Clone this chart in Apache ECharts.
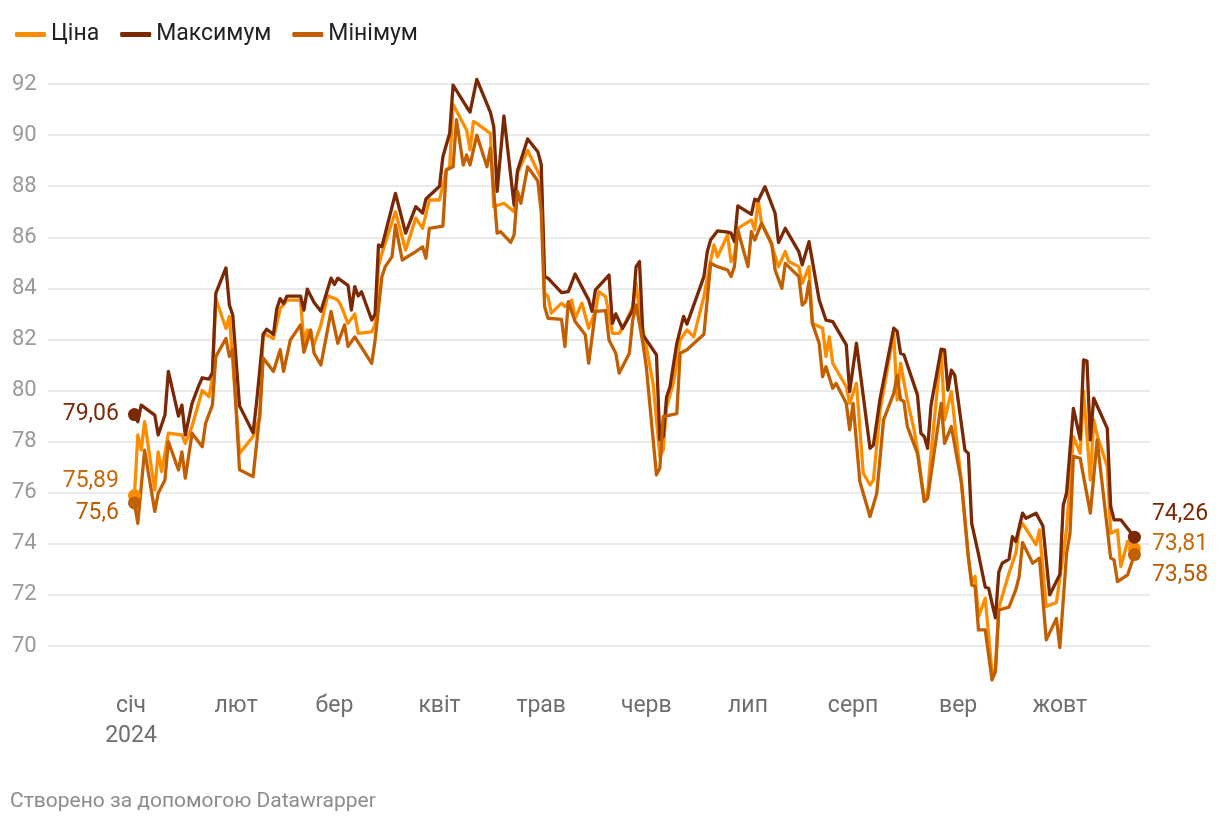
<!DOCTYPE html>
<html><head><meta charset="utf-8">
<script src="https://cdn.jsdelivr.net/npm/echarts@6/dist/echarts.min.js"></script>
<style>html,body{margin:0;padding:0;background:#fff}#chart{width:1220px;height:826px}</style>
</head><body><div id="chart"></div>
<script>
// Days are counted from 2024-01-01 (day 0)
const seriesNames = ['Ціна', 'Максимум', 'Мінімум'];
const monthLabels = ['січ','лют','бер','квіт','трав','черв','лип','серп','вер','жовт','лист','груд'];
const yearLabel = '2024';
const footerText = 'Створено за допомогою Datawrapper';

const priceDays = [1,2,3,4,7,8,9,10,11,15,16,18,21,23,24,25,28,29,32,36,38,39,42,44,46,50,51,52,54,56,58,61,62,64,66,67,71,72,73,74,78,81,84,86,88,91,93,94,95,99,100,101,102,106,107,110,113,114,117,121,122,123,124,127,128,130,131,133,135,137,138,140,142,144,146,148,149,150,152,154,156,157,158,160,162,164,166,169,171,172,173,176,177,178,179,183,184,185,186,189,191,193,194,197,198,200,201,204,205,206,207,211,212,214,216,218,219,221,225,226,227,229,231,232,234,235,236,239,240,242,243,245,247,248,249,250,252,254,255,256,259,261,262,263,267,268,269,270,273,275,276,278,280,281,283,284,285,288,289,291,292,294,296];
const priceValues = [75.89,78.26,77.67,78.78,76.1,77.6,76.83,77.54,78.33,78.26,77.93,78.6,80.0,79.76,80.48,83.6,82.43,82.9,77.54,78.2,78.98,82.24,82.04,83.2,83.54,83.54,81.85,82.37,81.8,82.57,83.72,83.54,83.3,82.63,83.0,82.24,82.3,82.57,84.85,85.37,87.0,85.5,86.75,86.35,87.46,87.46,88.63,88.76,91.2,90.2,89.42,90.53,90.46,90.07,87.2,87.33,87.0,88.5,89.4,88.3,83.81,83.68,83.03,83.42,83.29,83.54,82.83,83.42,82.44,83.1,83.87,83.68,82.24,82.24,82.7,83.29,84.2,83.03,81.72,80.28,77.42,77.67,79.37,80.28,81.98,82.37,82.1,83.68,85.11,85.7,85.24,86.09,85.05,85.31,86.35,86.68,86.29,87.46,86.55,85.7,84.85,85.44,85.05,84.85,84.2,84.85,82.63,82.44,81.33,82.1,81.07,80.15,79.5,80.28,76.77,76.3,76.5,79.24,82.24,79.63,81.07,79.63,78.46,77.67,75.72,75.98,77.54,81.6,78.85,79.96,78.72,76.37,73.5,72.5,72.72,71.15,71.87,68.93,69.13,71.5,72.85,73.63,74.54,74.8,73.96,74.54,73.0,71.55,71.7,73.6,74.6,78.2,77.54,80.0,76.5,78.85,78.26,77.02,74.41,74.54,73.11,74.09,73.81];

const highDays = [1,2,3,7,8,10,11,14,15,16,18,20,21,23,24,25,28,29,30,32,36,37,39,40,42,43,44,45,46,50,51,52,54,56,59,60,61,64,65,66,67,68,71,72,73,74,78,81,84,86,87,91,92,94,95,99,100,102,106,107,108,110,113,114,117,120,121,122,123,127,129,131,135,136,137,141,142,143,145,148,149,150,151,155,156,157,158,159,161,163,164,169,170,171,173,176,177,178,179,183,184,185,187,190,191,193,197,198,200,203,205,207,211,212,214,218,219,221,225,226,227,228,232,233,234,235,236,239,240,241,242,243,246,247,248,250,252,253,255,256,257,259,260,261,263,264,267,269,271,274,275,276,278,280,281,282,283,284,288,289,290,292,296];
const highValues = [79.06,78.78,79.43,79.04,78.26,79.04,80.75,79.0,79.43,78.26,79.5,80.2,80.5,80.45,80.7,83.8,84.8,83.35,82.96,79.4,78.35,79.5,82.2,82.4,82.2,83.2,83.6,83.4,83.7,83.7,83.15,83.97,83.45,83.1,84.4,84.15,84.4,84.12,83.15,84.07,83.7,83.87,82.76,83.0,85.7,85.63,87.72,86.16,87.2,86.95,87.5,88.0,89.15,90.07,91.96,91.1,90.9,92.18,90.9,90.33,87.8,90.75,87.26,88.6,89.85,89.35,88.85,84.46,84.4,83.83,83.87,84.56,83.55,83.1,83.94,84.52,82.63,83.0,82.43,83.15,84.85,85.05,82.18,81.4,78.07,78.2,79.76,80.15,81.85,82.9,82.6,84.46,85.44,85.9,86.25,86.2,86.16,85.83,87.23,86.9,87.49,87.43,87.98,86.94,85.79,86.35,85.44,84.92,85.83,83.55,82.76,82.7,81.79,79.96,81.85,77.74,77.87,79.7,82.44,82.32,81.46,81.4,79.83,78.33,78.2,77.74,79.43,81.62,81.59,80.02,80.8,80.6,77.67,77.54,74.8,73.6,72.3,72.26,71.1,72.9,73.24,73.4,74.28,74.09,75.2,75.0,75.2,74.7,72.0,72.8,75.5,76.0,79.3,78.1,81.2,81.15,78.07,79.7,78.52,75.46,74.94,74.94,74.26];

const lowDays = [1,2,4,7,8,10,11,14,15,16,18,21,22,24,25,28,29,30,32,36,38,39,42,44,45,47,50,51,53,54,56,59,61,63,64,66,71,72,74,75,77,78,80,84,86,87,88,92,93,95,96,98,99,100,102,105,106,108,109,112,113,114,115,117,120,121,122,123,127,128,129,131,134,135,137,140,141,143,144,147,148,149,151,152,155,156,157,159,161,162,164,169,171,173,176,177,178,179,182,183,184,186,189,190,192,193,197,198,199,200,201,203,204,205,207,208,211,212,213,215,218,220,222,225,226,227,228,229,232,234,235,239,240,242,245,247,248,249,250,252,254,255,256,259,261,262,263,266,268,270,273,274,276,277,278,280,283,285,289,290,291,294,296];
const lowValues = [75.6,74.8,77.67,75.27,75.98,76.5,78.0,76.89,77.6,76.57,78.33,77.8,78.72,79.43,81.33,82.04,81.33,81.6,76.9,76.63,79.1,81.27,80.75,81.6,80.75,81.98,82.57,81.5,82.37,81.46,81.0,83.1,81.85,82.57,81.72,82.1,81.06,81.98,84.46,84.85,85.24,86.48,85.11,85.44,85.63,85.18,86.35,86.44,88.63,88.76,90.6,88.83,89.22,88.83,90.0,88.76,89.48,86.16,86.22,85.8,86.09,87.8,87.33,88.76,88.2,87.0,83.29,82.83,82.79,81.72,83.48,82.7,82.18,81.07,83.1,83.13,81.98,81.46,80.68,81.46,82.76,83.35,81.85,80.93,76.7,76.96,78.98,79.04,79.1,81.46,81.6,82.2,84.98,84.85,84.72,84.46,84.85,86.29,84.85,86.22,85.89,86.55,85.76,84.72,84.0,84.98,84.46,83.35,83.48,84.26,82.63,81.85,80.54,80.93,80.09,80.28,79.5,78.46,79.5,76.44,75.07,75.98,78.85,79.89,80.6,79.65,79.57,78.6,77.54,75.65,75.78,79.5,77.93,78.59,76.37,73.5,72.39,72.33,70.63,70.63,68.67,69.0,71.41,71.52,72.2,72.72,74.05,73.24,73.44,70.24,71.08,69.94,73.63,74.41,77.42,77.35,75.2,78.07,73.44,73.37,72.52,72.78,73.58];

const DAY0 = Date.UTC(2024, 0, 1);
const DAY = 86400000;
const FONT = 'Roboto, "Noto Sans", sans-serif';

const lineColors = ['#fd8d00', '#7b2804', '#c25f00'];
const labelColors = ['#c4680a', '#7b2804', '#bb5a00'];
const startOffsets = [-14, 0, 10];
const endOffsets = [-4, -23, 21];

const dayLists = [priceDays, highDays, lowDays];
const valueLists = [priceValues, highValues, lowValues];

function toPoints(days, vals) { return days.map((d, i) => [DAY0 + d * DAY, vals[i]]); }

const series = seriesNames.map((name, i) => {
  const pts = toPoints(dayLists[i], valueLists[i]);
  const first = pts[0], last = pts[pts.length - 1];
  return {
    name, type: 'line', data: pts, symbol: 'none', showSymbol: false, clip: false,
    lineStyle: { width: 3.3, color: lineColors[i], join: 'round', cap: 'round' },
    itemStyle: { color: lineColors[i] },
    z: 2 + i,
    markPoint: {
      symbol: 'circle', symbolSize: 13,
      itemStyle: { color: lineColors[i] },
      label: {
        show: true, fontSize: 23, fontFamily: FONT, color: labelColors[i],
        formatter: p => String(p.value).replace('.', ',')
      },
      data: [
        { coord: first, value: first[1], label: { position: 'left', distance: 9, offset: [0, startOffsets[i]] } },
        { coord: last, value: last[1], label: { position: 'right', distance: 11, offset: [0, endOffsets[i]] } }
      ]
    }
  };
});

const chart = echarts.init(document.getElementById('chart'), null, { renderer: 'canvas' });
chart.setOption({
  animation: false,
  useUTC: true,
  textStyle: { fontFamily: FONT },
  legend: {
    data: seriesNames, left: 10, top: 18, icon: 'roundRect', itemWidth: 31, itemHeight: 5, itemGap: 21,
    textStyle: { fontSize: 23, color: '#222', fontFamily: FONT }
  },
  grid: { left: 48, right: 70, top: 84, bottom: 180, containLabel: false },
  xAxis: {
    type: 'time',
    min: DAY0 - 24.5 * DAY, max: DAY0 + 300.6 * DAY,
    minInterval: 28 * DAY, maxInterval: 31 * DAY,
    axisLine: { show: false }, axisTick: { show: false }, splitLine: { show: false },
    axisLabel: {
      showMinLabel: false, showMaxLabel: false, hideOverlap: false,
      fontSize: 23, color: '#6e6e6e', lineHeight: 30, margin: 45, fontFamily: FONT,
      formatter: function (v) {
        const d = new Date(v);
        if (d.getUTCFullYear() !== 2024 || d.getUTCDate() !== 1) return '';
        const m = d.getUTCMonth();
        return m === 0 ? monthLabels[0] + '\n' + yearLabel : monthLabels[m];
      }
    }
  },
  yAxis: {
    type: 'value', min: 70, max: 92, interval: 2,
    axisLine: { show: false }, axisTick: { show: false },
    axisLabel: { fontSize: 22, color: '#999', align: 'left', margin: 36, fontFamily: FONT },
    splitLine: { lineStyle: { color: '#e3e3e3', width: 1.5 } }
  },
  graphic: [{
    type: 'text', left: 10, top: 791,
    style: { text: footerText, fill: '#8c8c8c', font: '21px ' + FONT }
  }],
  series
});
</script></body></html>
